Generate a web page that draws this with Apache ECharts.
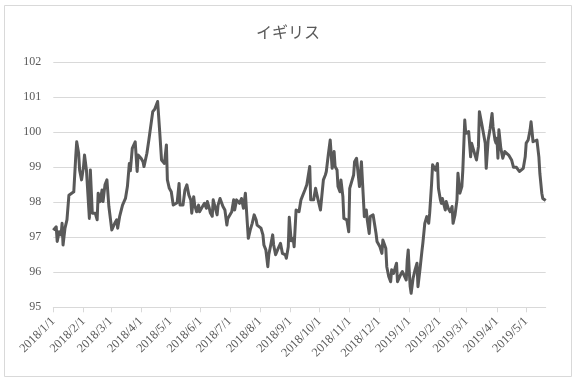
<!DOCTYPE html>
<html>
<head>
<meta charset="utf-8">
<script src="https://cdn.jsdelivr.net/npm/echarts@6/dist/echarts.min.js"></script>
<style>
html,body{margin:0;padding:0;background:#fff;}
#chart{width:576px;height:383px;}
</style>
</head>
<body>
<div id="chart"></div>
<script>
// Title
var chartTitle = 'イギリス';
// Start date of the series; observation dates are given as day offsets from it
var startDate = [2018, 1, 1];
var dayOffsets = [
  0,3,4,6,8,9,10,12,14,16,18,21,23,24,26,27,29,31,32,34,37,38,40,42,43,45,46,48,50,51,
  53,55,57,60,61,63,65,66,68,71,74,76,78,79,81,82,84,86,87,90,92,93,96,98,100,102,104,107,109,110,
  111,113,114,116,117,119,121,123,125,127,129,130,132,133,135,137,139,141,142,144,145,147,149,150,152,155,157,158,160,
  161,163,164,166,168,169,171,173,174,176,178,179,181,183,185,186,188,190,191,193,195,197,199,200,202,204,206,208,209,
  211,213,215,216,218,220,221,223,225,226,228,230,232,233,235,238,239,241,242,244,246,247,249,251,252,254,256,258,260,
  261,263,264,266,267,269,270,272,274,275,277,279,280,282,284,286,288,289,291,292,294,295,297,298,300,301,303,304,306,
  308,309,311,313,314,316,317,319,321,322,324,325,327,328,330,331,332,334,335,337,338,340,341,342,344,346,347,349,350,
  352,353,355,356,358,360,362,363,364,365,366,367,369,371,373,374,376,378,379,381,383,385,386,388,389,390,392,394,395,
  397,398,399,401,402,403,405,406,407,409,410,412,414,415,417,419,420,422,423,425,426,428,429,431,432,434,436,437,439,
  441,443,444,446,448,450,451,453,454,455,456,457,459,460,461,463,465,467,468,470,472,473,475,477,478,480,482,484,485,
  487,489,490,491,492,494,496,498,499,501,502,505
];
var values = [
  97.20,97.30,96.88,97.16,97.07,97.40,96.78,97.26,97.50,98.20,98.16,98.30,99.30,99.73,99.40,98.92,98.64,99.02,99.35,98.92,97.54,98.92,97.69,97.73,97.69,97.50,98.26,98.02,98.35,98.02,
  98.50,98.64,97.88,97.21,97.16,97.40,97.50,97.26,97.59,97.92,98.11,98.45,99.11,98.90,99.54,99.59,99.73,98.88,99.35,99.26,99.16,99.02,99.40,99.78,99.83,100.59,100.66,100.88,100.07,100.02,
  99.21,99.16,99.11,99.64,98.64,98.40,98.30,97.92,97.92,97.99,98.54,97.92,97.92,97.92,98.35,98.50,98.21,98.07,97.69,98.16,97.92,97.73,97.92,97.73,97.83,97.97,97.83,98.02,97.83,
  97.70,97.60,98.07,98.11,97.64,97.92,98.11,98.07,97.88,97.78,97.35,97.54,97.54,97.73,98.07,97.78,98.07,98.02,97.97,98.11,97.83,98.26,97.40,96.97,97.21,97.40,97.64,97.50,97.35,
  97.40,97.26,97.07,96.78,96.64,96.16,96.50,96.78,97.07,96.78,96.50,96.64,96.69,96.83,96.54,96.50,96.40,96.73,97.57,96.90,96.97,96.73,97.78,97.83,97.73,98.07,98.07,98.35,98.50,
  98.50,99.02,98.07,98.07,98.07,98.40,98.26,98.02,97.78,97.73,98.64,98.78,98.88,99.35,99.78,98.97,99.45,99.02,98.92,98.45,98.30,98.64,98.16,97.54,97.54,97.50,97.16,98.40,98.59,
  98.78,99.16,99.26,99.21,98.45,99.16,99.11,97.59,97.78,97.50,97.11,97.59,97.59,97.64,97.59,97.11,96.88,96.83,96.73,96.54,96.92,96.97,96.69,96.16,95.88,95.73,96.07,95.97,96.07,
  96.26,95.73,95.78,95.92,96.02,96.07,95.78,96.35,96.64,96.07,95.59,95.40,95.83,96.07,96.26,95.59,96.07,96.59,96.83,97.40,97.59,97.40,97.69,98.54,99.07,99.02,98.92,99.11,98.40,
  98.07,97.97,98.11,98.07,97.78,98.02,97.83,97.88,97.73,97.88,97.40,97.64,98.07,98.83,98.26,98.45,98.92,100.35,99.97,100.02,100.02,99.30,99.69,99.64,99.40,99.21,99.59,100.59,100.30,
  100.26,99.69,98.97,99.78,100.11,100.54,100.16,99.78,99.69,99.83,99.26,100.07,99.54,99.50,99.26,99.45,99.45,99.35,99.30,99.21,99.00,99.00,99.00,99.02,98.88,98.92,98.97,99.30,99.69,
  99.78,100.07,100.30,100.02,99.73,99.73,99.78,99.30,98.83,98.26,98.11,98.05
];
// Axis
var xEndOffset = 505;
var tickLabels = ['2018/1/1','2018/2/1','2018/3/1','2018/4/1','2018/5/1','2018/6/1','2018/7/1','2018/8/1','2018/9/1',
  '2018/10/1','2018/11/1','2018/12/1','2019/1/1','2019/2/1','2019/3/1','2019/4/1','2019/5/1'];
var yMin = 95, yMax = 102, yStep = 1;

var t0 = Date.UTC(startDate[0], startDate[1] - 1, startDate[2]);
function labelOffset(s) {
  var p = s.split('/').map(Number);
  return Math.round((Date.UTC(p[0], p[1] - 1, p[2]) - t0) / 86400000);
}
var tickOffsets = tickLabels.map(labelOffset);
var labelByOffset = {};
tickOffsets.forEach(function (o, i) { labelByOffset[o] = tickLabels[i]; });
var n = Math.min(dayOffsets.length, values.length);
var seriesData = [];
for (var i = 0; i < n; i++) seriesData.push([dayOffsets[i], values[i]]);

var chart = echarts.init(document.getElementById('chart'), null, {renderer: 'canvas'});
chart.setOption({
  animation: false,
  backgroundColor: '#ffffff',
  title: {
    text: chartTitle,
    left: 'center',
    top: 19,
    textStyle: {fontFamily: 'Noto Sans CJK JP', fontSize: 16, fontWeight: 'normal', color: '#595959'}
  },
  graphic: [{
    type: 'rect',
    shape: {x: 4.5, y: 5.5, width: 567, height: 371},
    style: {fill: 'none', stroke: '#d9d9d9', lineWidth: 1},
    silent: true,
    z: -1
  }],
  grid: {left: 53.3, right: 30.3, top: 62.3, bottom: 75.7, containLabel: false},
  xAxis: {
    type: 'value',
    min: 0,
    max: xEndOffset,
    axisLine: {show: true, lineStyle: {color: '#d9d9d9', width: 1}},
    axisTick: {show: true, length: 5, lineStyle: {color: '#d9d9d9'}, customValues: tickOffsets},
    splitLine: {show: false},
    axisLabel: {
      customValues: tickOffsets,
      rotate: 45,
      margin: 12,
      fontFamily: 'Liberation Serif',
      fontSize: 12.5,
      color: '#595959',
      formatter: function (v) { return labelByOffset[Math.round(v)] || ''; }
    }
  },
  yAxis: {
    type: 'value',
    min: yMin,
    max: yMax,
    interval: yStep,
    axisLine: {show: false},
    axisTick: {show: false},
    splitLine: {show: true, lineStyle: {color: '#d9d9d9', width: 1}},
    axisLabel: {margin: 12, fontFamily: 'Liberation Serif', fontSize: 12, color: '#595959'}
  },
  series: [{
    type: 'line',
    data: seriesData,
    showSymbol: false,
    symbol: 'none',
    lineStyle: {color: '#595959', width: 3, join: 'round'},
    itemStyle: {color: '#595959'}
  }]
});
</script>
</body>
</html>
